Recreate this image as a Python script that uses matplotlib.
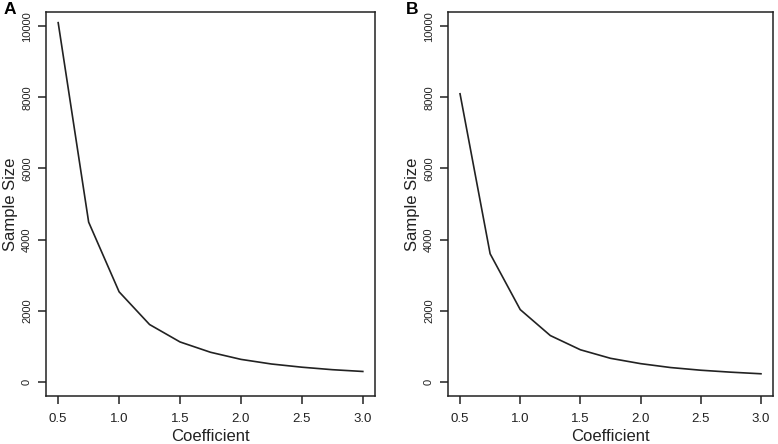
import matplotlib
matplotlib.use("Agg")
import matplotlib.pyplot as plt

plt.rcParams["font.family"] = ["Liberation Sans", "DejaVu Sans"]

# Coefficient values (x) shared by both panels
coef = [0.5, 0.75, 1.0, 1.25, 1.5, 1.75, 2.0, 2.25, 2.5, 2.75, 3.0]

# Sample size
size_a = [10100, 4490, 2530, 1610, 1120, 830, 630, 500, 410, 340, 290]
size_b = [8100, 3600, 2030, 1300, 900, 660, 510, 400, 325, 270, 225]

panels = [("A", size_a), ("B", size_b)]

xticks = [0.5, 1.0, 1.5, 2.0, 2.5, 3.0]
yticks = [0, 2000, 4000, 6000, 8000, 10000]

fig = plt.figure(figsize=(7.78, 4.44), dpi=100)

# axes boxes in pixels: left, right
boxes = [(46, 375), (448, 773)]
top, bottom = 12, 396
W, H = 778, 444

for (letter, vals), (l, r) in zip(panels, boxes):
    ax = fig.add_axes([l / W, 1 - bottom / H, (r - l) / W, (bottom - top) / H])
    ax.plot(coef, vals, color="#222222", linewidth=1.2)
    ax.set_xlim(0.4, 3.1)
    ax.set_ylim(-400, 10400)
    ax.set_xticks(xticks)
    ax.set_xticklabels([f"{v:.1f}" for v in xticks], fontsize=9.5, color="#222222")
    ax.set_yticks(yticks)
    ax.set_yticklabels([str(v) for v in yticks], fontsize=8, rotation=90, va="center",
                       color="#222222")
    ax.tick_params(direction="out", length=6, width=1.1, color="#222222")
    ax.tick_params(axis="x", pad=6)
    ax.tick_params(axis="y", pad=4)
    for s in ax.spines.values():
        s.set_linewidth(1.1)
        s.set_color("#222222")
    ax.set_xlabel("Coefficient", fontsize=12, labelpad=3, color="#222222")
    ax.set_ylabel("Sample Size", fontsize=12, labelpad=3, color="#222222")
    fig.text((l - 42) / W, 1 - 10 / H, letter, fontsize=12.5, fontweight="bold",
             ha="left", va="center")

fig.savefig("out.png", dpi=100)
